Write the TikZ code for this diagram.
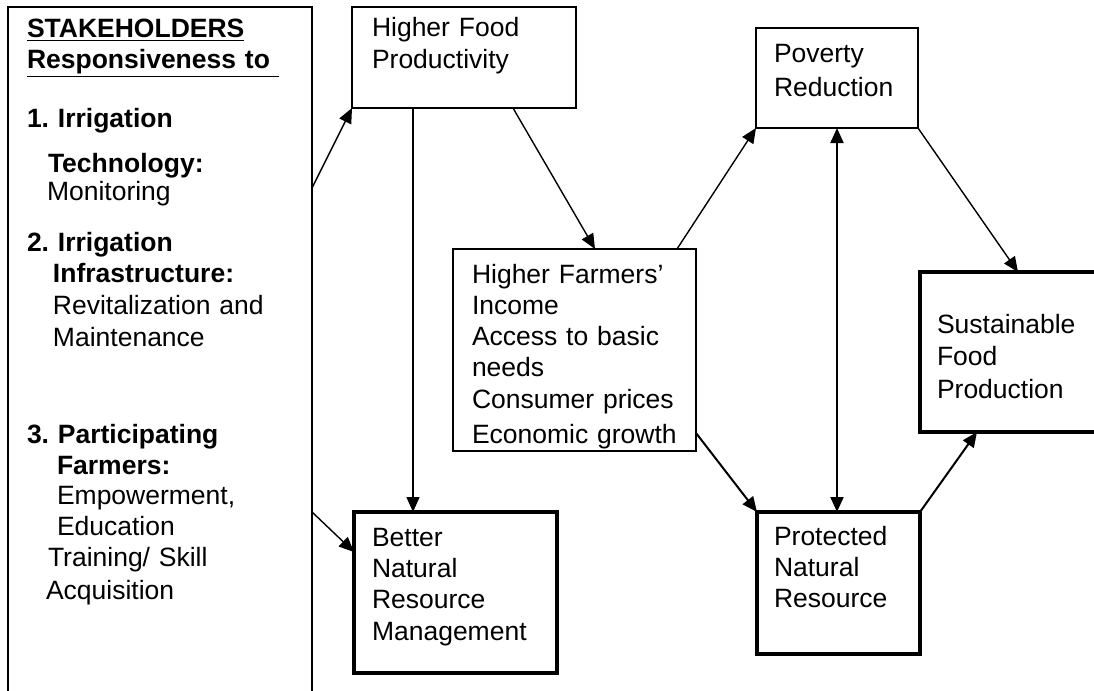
\documentclass[tikz,border=0pt]{standalone}
\usepackage{fontspec}
\setmainfont{Liberation Sans}
\usetikzlibrary{arrows.meta}
\frenchspacing
\tikzstyle{panel} = [rectangle, draw=black, line width=0.8pt, anchor=north west, outer sep=0pt, inner xsep=9.5pt, inner ysep=0pt, text width=133pt, align=left]
\tikzstyle{outcome} = [rectangle, draw=black, line width=0.7pt, anchor=north west, outer sep=0pt, inner ysep=0pt, align=left]
\tikzstyle{outcome_bold} = [outcome, line width=1.6pt]
\tikzstyle{arrow} = [line width=0.7pt, -{Triangle[length=7.5pt,width=6.5pt]}]
\tikzstyle{arrow_bold} = [arrow, line width=1pt]
\tikzstyle{arrow_both} = [line width=1pt, {Triangle[length=7.5pt,width=6.5pt]}-{Triangle[length=7.5pt,width=6.5pt]}]

\begin{document}
\begin{tikzpicture}[x=0.5pt, y=-0.5pt, every node/.style={font=\fontsize{13.25}{15.5}\selectfont}]
		\useasboundingbox (0,0) rectangle (1094,691);

		\node (stake) [panel, text height=15pt, text depth=341.5pt] at (8,7) {%
			\underline{\textbf{STAKEHOLDERS}}\\
			\underline{\textbf{Responsiveness to }}\\[14pt]
			\textbf{1. Irrigation}\\[7pt]
			\hspace*{10.5pt}\textbf{Technology:}\\[-1.5pt]
			\hspace*{10pt}Monitoring\\[10.5pt]
			\textbf{2. Irrigation}\\
			\hspace*{13pt}\textbf{Infrastructure:}\\
			\hspace*{13pt}Revitalization and\\[0.5pt]
			\hspace*{13pt}Maintenance\\[33.5pt]
			\textbf{3. Participating}\\
			\hspace*{15pt}\textbf{Farmers:}\\[-0.5pt]
			\hspace*{15pt}Empowerment,\\
			\hspace*{15pt}Education\\
			\hspace*{10.5pt}Training/ Skill\\[1pt]
			\hspace*{9.5pt}Acquisition};

		\node (hfp) [outcome, inner xsep=10pt, text width=92pt, text height=14.5pt, text depth=36pt] at (352,7) {Higher Food\\[0.5pt] Productivity};
		\node (hfi) [outcome, inner xsep=9.5pt, text width=102.5pt, text height=17pt, text depth=84pt] at (453,249) {Higher Farmers’\\ Income\\ Access to basic\\ needs\\[0.5pt] Consumer prices\\[2pt] Economic growth};
		\node (bnrm) [outcome_bold, inner xsep=9pt, text width=83.5pt, text height=17pt, text depth=63.5pt] at (354,512) {Better\\ Natural\\ Resource\\[0.5pt] Management};
		\node (pr) [outcome, inner xsep=9pt, text width=63pt, text height=17pt, text depth=33pt] at (756,28) {Poverty\\[1.5pt] Reduction};
		\node (pnr) [outcome_bold, inner xsep=8.5pt, text width=64.5pt, text height=16.5pt, text depth=54.5pt] at (757,512) {Protected\\ Natural\\ Resource};
		\node (sfp) [outcome_bold, inner xsep=8.5pt, text width=78pt, text height=30.5pt, text depth=49.5pt] at (920,272) {Sustainable\\[0.5pt] Food\\[1pt] Production};
		\draw [line width=1.4pt] (pr.north west) -- (pr.north east);

		\draw [arrow] ([yshift=-90.5pt]stake.north east) -- (hfp.south west);
		\draw [arrow] ([yshift=-252.5pt]stake.north east) -- ([yshift=-20pt]bnrm.north west);
		\draw [arrow] ([xshift=30.5pt]hfp.south west) -- ([xshift=30.5pt]hfp.south west |- bnrm.north);
		\draw [arrow] ([xshift=80.5pt]hfp.south west) -- ([xshift=71pt]hfi.north west);
		\draw [arrow] ([xshift=112pt]hfi.north west) -- (pr.south west);
		\draw [arrow] (pr.south east) -- ([xshift=49pt]sfp.north west);
		\draw [arrow_both] (pr.south) -- (pr.south |- pnr.north);
		\draw [arrow_bold] ([yshift=9pt]hfi.south east) -- (pnr.north west);
		\draw [arrow_bold] (pnr.north east) -- ([xshift=28.5pt]sfp.south west);
\end{tikzpicture}
\end{document}
